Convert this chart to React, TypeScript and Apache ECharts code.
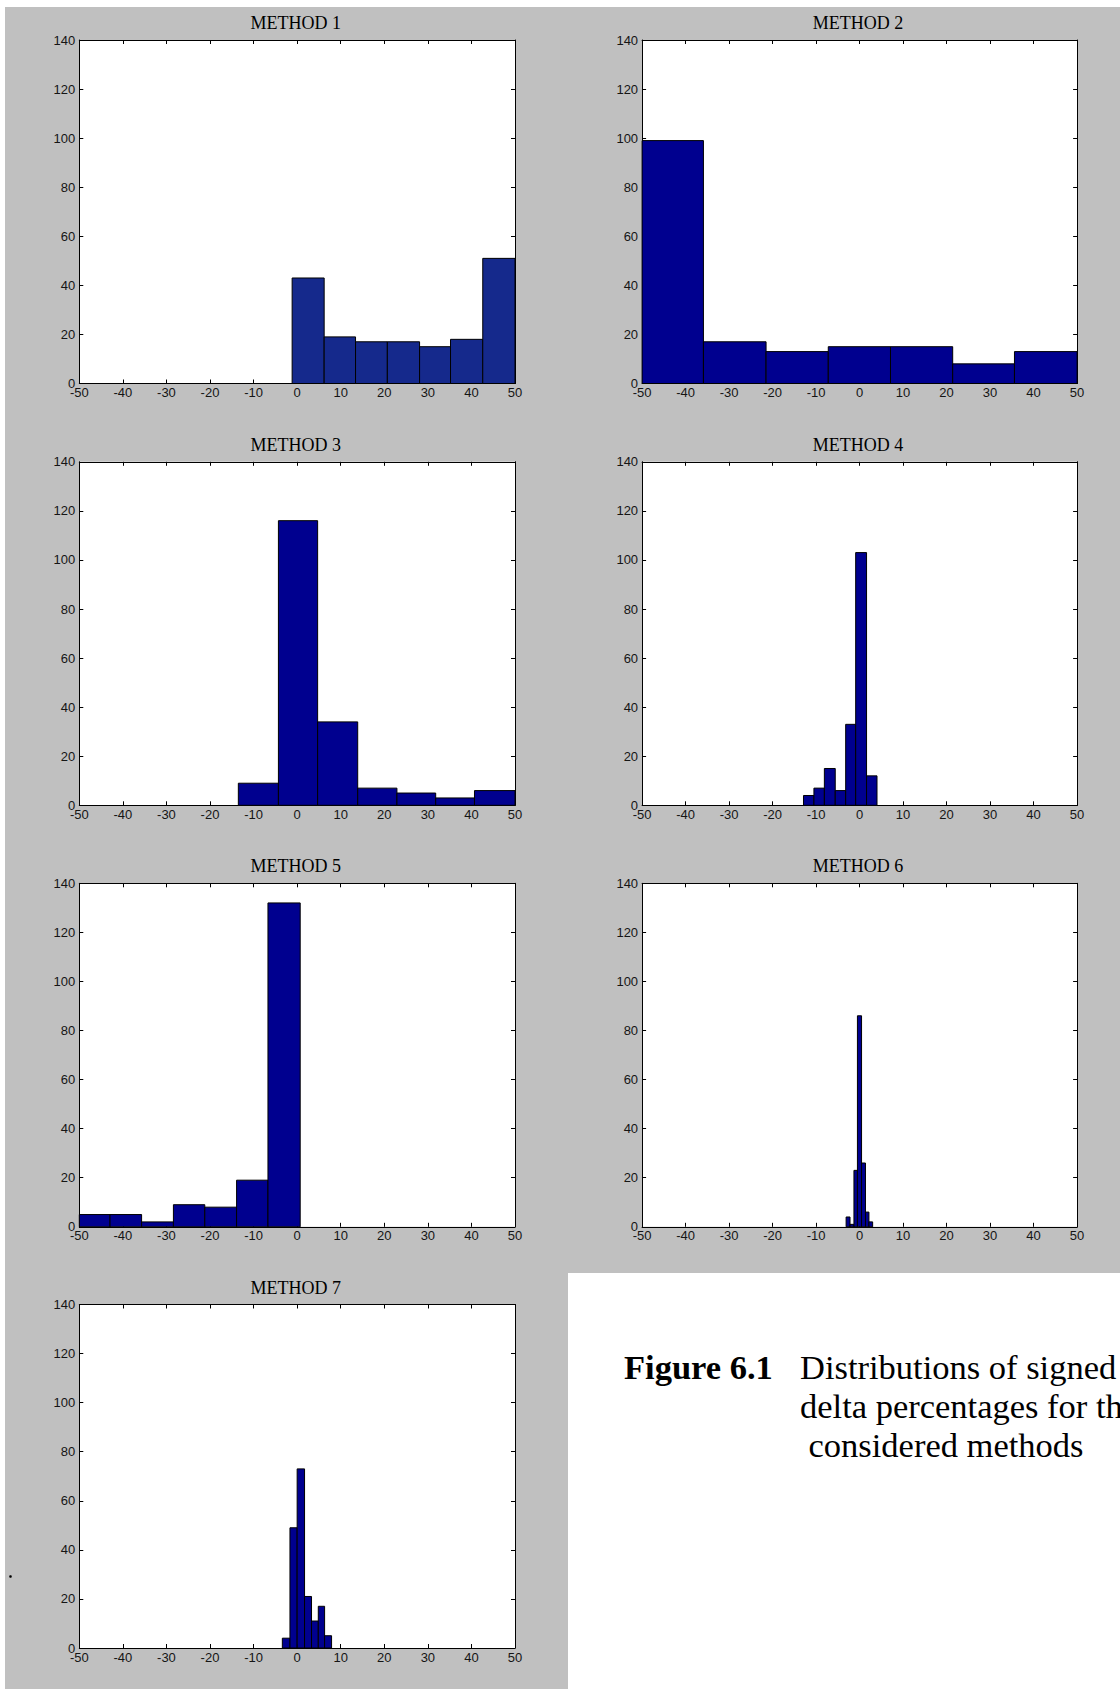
import React, { useEffect, useRef } from "react";
import * as echarts from "echarts";

// ---------- data ----------
const methodTitles = ["METHOD 1", "METHOD 2", "METHOD 3", "METHOD 4", "METHOD 5", "METHOD 6", "METHOD 7"];

const xTicks = [-50, 50, 10]; // min, max, step
const yTicks = [0, 140, 20];

const m1Edges = [-1.15, 6.2, 13.4, 20.7, 28.1, 35.2, 42.6, 50.0];
const m1Counts = [43, 19, 17, 17, 15, 18, 51];

const m2Edges = [-50.2, -35.9, -21.5, -7.2, 7.1, 21.4, 35.6, 50.0];
const m2Counts = [99, 17, 13, 15, 15, 8, 13];

const m3Edges = [-13.5, -4.3, 4.7, 13.9, 22.9, 31.8, 40.7, 50.0];
const m3Counts = [9, 116, 34, 7, 5, 3, 6];

const m4Edges = [-12.9, -10.5, -8.1, -5.6, -3.2, -0.9, 1.6, 4.0];
const m4Counts = [4, 7, 15, 6, 33, 103, 12];

const m5Edges = [-50.2, -42.95, -35.7, -28.4, -21.2, -13.9, -6.7, 0.7];
const m5Counts = [5, 5, 2, 9, 8, 19, 132];

const m6Edges = [-3.1, -2.2, -1.3, -0.5, 0.45, 1.35, 2.15, 3.0];
const m6Counts = [4, 1, 23, 86, 26, 6, 2];

const m7Edges = [-3.4, -1.65, 0.0, 1.7, 3.3, 4.85, 6.3, 7.9];
const m7Counts = [4, 49, 73, 21, 11, 17, 5];

const captionBold = "Figure 6.1";
const captionLines = ["Distributions of signed", "delta percentages for the", "considered methods"];

// ---------- styling / layout ----------
const barColors = ["#15298c", "#00008f", "#00008f", "#00008f", "#00008f", "#00008f", "#00008f"];
const colLeft = [79.3, 642.1];
const colWidth = [435.7, 435];
const rowTop = [40, 461.8, 883.3, 1304.5];
const plotHeight = 343.5;

const SANS = "'Liberation Sans', Arial, Helvetica, sans-serif";
const SERIF = "'Liberation Serif', 'Times New Roman', Times, serif";

const allEdges = [m1Edges, m2Edges, m3Edges, m4Edges, m5Edges, m6Edges, m7Edges];
const allCounts = [m1Counts, m2Counts, m3Counts, m4Counts, m5Counts, m6Counts, m7Counts];

function binsToData(edges: number[], counts: number[]) {
  return counts.map((c, i) => [edges[i], edges[i + 1], c]);
}

function makeRenderItem(color: string) {
  return (params: any, api: any) => {
    const x0 = api.value(0);
    const x1 = api.value(1);
    const h = api.value(2);
    const a = api.coord([x0, h]);
    const b = api.coord([x1, 0]);
    const cs = params.coordSys;
    const shape = echarts.graphic.clipRectByRect(
      { x: a[0], y: a[1], width: b[0] - a[0], height: b[1] - a[1] },
      { x: cs.x, y: cs.y, width: cs.width, height: cs.height }
    );
    if (!shape) return null;
    return {
      type: "rect",
      shape,
      style: { fill: color, stroke: "#000", lineWidth: 1 },
    };
  };
}

export default function App() {
  const ref = useRef<HTMLDivElement>(null);

  useEffect(() => {
    if (!ref.current) return;
    const chart = echarts.init(ref.current, undefined, { renderer: "svg" });

    const grids: any[] = [];
    const xAxes: any[] = [];
    const yAxes: any[] = [];
    const series: any[] = [];
    const graphics: any[] = [];

    // background
    graphics.push({
      type: "rect",
      z: -100,
      shape: { x: 5, y: 7, width: 1115, height: 1682 },
      style: { fill: "#c0c0c0" },
      silent: true,
    });
    graphics.push({
      type: "rect",
      z: -99,
      shape: { x: 568, y: 1273, width: 552, height: 416 },
      style: { fill: "#ffffff" },
      silent: true,
    });

    const axisLine = { show: true, onZero: false, lineStyle: { color: "#000", width: 1 } };
    const axisTick = { show: true, inside: true, length: 4, lineStyle: { color: "#000", width: 1 } };

    methodTitles.forEach((title, i) => {
      const col = i % 2;
      const row = Math.floor(i / 2);
      const left = colLeft[col];
      const width = colWidth[col];
      const top = rowTop[row];
      grids.push({
        left,
        top,
        width,
        height: plotHeight,
        show: true,
        backgroundColor: "#ffffff",
        borderWidth: 0,
        containLabel: false,
      });
      const label = {
        show: true,
        fontSize: 13,
        lineHeight: 10,
        color: "#151515",
        fontFamily: SANS,
        showMinLabel: true,
        showMaxLabel: true,
        hideOverlap: false,
      };
      xAxes.push({
        gridIndex: i,
        type: "value",
        min: xTicks[0],
        max: xTicks[1],
        interval: xTicks[2],
        position: "bottom",
        axisLine,
        axisTick,
        axisLabel: { ...label, margin: 4 },
        splitLine: { show: false },
      });
      xAxes.push({
        gridIndex: i,
        type: "value",
        min: xTicks[0],
        max: xTicks[1],
        interval: xTicks[2],
        position: "top",
        axisLine,
        axisTick,
        axisLabel: { show: false },
        splitLine: { show: false },
      });
      yAxes.push({
        gridIndex: i,
        type: "value",
        min: yTicks[0],
        max: yTicks[1],
        interval: yTicks[2],
        position: "left",
        axisLine,
        axisTick,
        axisLabel: { ...label, margin: 4 },
        splitLine: { show: false },
      });
      yAxes.push({
        gridIndex: i,
        type: "value",
        min: yTicks[0],
        max: yTicks[1],
        interval: yTicks[2],
        position: "right",
        axisLine,
        axisTick,
        axisLabel: { show: false },
        splitLine: { show: false },
      });
      series.push({
        type: "custom",
        name: title,
        xAxisIndex: 2 * i,
        yAxisIndex: 2 * i,
        renderItem: makeRenderItem(barColors[i]),
        encode: { x: [0, 1], y: 2 },
        data: binsToData(allEdges[i], allCounts[i]),
        z: 1,
      });
      graphics.push({
        type: "text",
        z: 10,
        x: left + width / 2 - 1.5,
        y: top - 17,
        style: {
          text: title,
          fontFamily: SERIF,
          fontSize: 18,
          fill: "#000",
          align: "center",
          verticalAlign: "middle",
        },
      });
    });

    // caption
    const capSize = 34.5;
    const baselines = [1379, 1418, 1457];
    const mid = (b: number) => b - 0.3375 * capSize;
    graphics.push({
      type: "text",
      z: 10,
      x: 624,
      y: mid(baselines[0]),
      style: {
        text: captionBold,
        fontFamily: SERIF,
        fontSize: capSize,
        fontWeight: "bold",
        fill: "#000",
        align: "left",
        verticalAlign: "middle",
      },
    });
    const capX = [800, 800, 808.5];
    captionLines.forEach((t, k) => {
      graphics.push({
        type: "text",
        z: 10,
        x: capX[k],
        y: mid(baselines[k]),
        style: {
          text: t,
          fontFamily: SERIF,
          fontSize: capSize,
          fill: "#000",
          align: "left",
          verticalAlign: "middle",
        },
      });
    });

    // small stray dot at the left of METHOD 7
    graphics.push({
      type: "circle",
      z: 10,
      shape: { cx: 10.5, cy: 1576.5, r: 1.3 },
      style: { fill: "#000" },
    });

    chart.setOption({
      animation: false,
      backgroundColor: "#ffffff",
      grid: grids,
      xAxis: xAxes,
      yAxis: yAxes,
      series,
      graphic: { elements: graphics },
    });

    return () => chart.dispose();
  }, []);

  return (
    <div
      ref={ref}
      style={{ position: "absolute", left: 0, top: 0, width: 1120, height: 1689, overflow: "hidden" }}
    />
  );
}
